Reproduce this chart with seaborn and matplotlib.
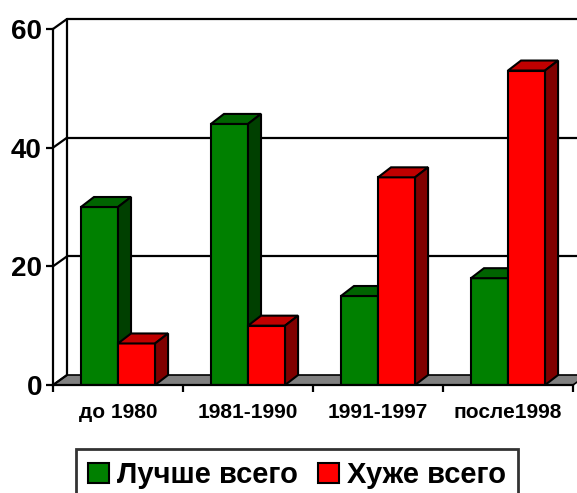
import numpy as np
import pandas as pd
import seaborn as sns
import matplotlib.pyplot as plt
from matplotlib.patches import Polygon, Patch

# chart data
periods = ["до 1980", "1981-1990", "1991-1997", "после1998"]
series = ["Лучше всего", "Хуже всего"]
best = [30, 44, 15, 18]
worst = [7, 10, 35, 53]
y_ticks = [0, 20, 40, 60]

front_colors = ["#008000", "#ff0000"]
top_colors = ["#006400", "#c00000"]
side_colors = ["#004000", "#800000"]

sns.set_style("white")
plt.rcParams['font.family'] = ['Liberation Sans', 'DejaVu Sans']
plt.rcParams['font.weight'] = 'bold'
plt.rcParams['text.color'] = 'black'
plt.rcParams['xtick.color'] = 'black'
plt.rcParams['ytick.color'] = 'black'
plt.rcParams['axes.edgecolor'] = 'black'

df = pd.DataFrame({
    "period": periods * 2,
    "series": [series[0]] * 4 + [series[1]] * 4,
    "value": best + worst,
})

W, H = 577, 493
fig = plt.figure(figsize=(W / 100, H / 100), dpi=100)
px_unit = 356 / 60.0      # pixels per value unit
cat_px = 130.0            # pixels per category
y_top = 62.2
ax = fig.add_axes([53 / W, (H - 385) / H, (W - 53) / W, y_top * px_unit / H])

sns.barplot(data=df, x="period", y="value", hue="series", order=periods,
            hue_order=series, palette=front_colors, width=0.57,
            edgecolor="black", linewidth=1.5, saturation=1, legend=False,
            ax=ax, zorder=3)

ax.set_xlim(-0.5, (W - 53) / cat_px - 0.5)
ax.set_ylim(0, y_top)

# depth of the fake 3d box
dx = 14 / cat_px
dy = 10 / px_unit

# floor
floor = Polygon([(-0.5, 0), (3.5, 0), (3.5 + dx, dy), (-0.5 + dx, dy)],
                closed=True, facecolor="#808080", edgecolor="black", lw=1.2,
                zorder=1, clip_on=False)
ax.add_patch(floor)

# back wall grid and left wall
x_right = ax.get_xlim()[1] + 0.1
for v in y_ticks:
    ax.plot([-0.5, -0.5 + dx], [v, v + dy], color="black", lw=1.6,
            zorder=1.5, clip_on=False, solid_capstyle="butt")
    if v > 0:
        ax.plot([-0.5 + dx, x_right], [v + dy, v + dy], color="black", lw=1.6,
                zorder=1.5, clip_on=False)
ax.plot([-0.5 + dx, -0.5 + dx], [dy, 60 + dy], color="black", lw=1.6,
        zorder=1.5, clip_on=False)

# top and side faces of the bars
bars = [p for p in ax.patches if p is not floor]
bars = sorted(bars, key=lambda p: p.get_x())
for p in bars:
    x0 = p.get_x()
    x1 = x0 + p.get_width()
    h = p.get_height()
    k = 0 if np.isclose(p.get_facecolor()[1], 128 / 255, atol=0.05) else 1
    z = p.get_zorder() + 0.01 * x0
    p.set_zorder(z)
    top = Polygon([(x0, h), (x1, h), (x1 + dx * 0.93, h + dy), (x0 + dx * 0.93, h + dy)],
                  closed=True, facecolor=top_colors[k], edgecolor="black",
                  lw=1.5, zorder=z, clip_on=False)
    side = Polygon([(x1, 0), (x1, h), (x1 + dx * 0.93, h + dy), (x1 + dx * 0.93, dy)],
                   closed=True, facecolor=side_colors[k], edgecolor="black",
                   lw=1.5, zorder=z, clip_on=False)
    ax.add_patch(top)
    ax.add_patch(side)

# axes styling
for s in ["top", "right"]:
    ax.spines[s].set_visible(False)
ax.spines["left"].set_bounds(0, 60)
ax.spines["bottom"].set_bounds(-0.5, 3.5)
ax.spines["left"].set_linewidth(1.6)
ax.spines["bottom"].set_linewidth(1.6)
ax.spines["left"].set_zorder(6)
ax.spines["bottom"].set_zorder(6)

ax.set_yticks(y_ticks)
ax.set_yticklabels([str(v) for v in y_ticks], fontsize=20, fontweight="bold")
ax.tick_params(axis="y", length=5, width=1.6, pad=3, left=True)
ax.set_xticks(np.arange(len(periods)))
ax.set_xticklabels(periods, fontsize=15, fontweight="bold")
ax.set_xticks(np.arange(len(periods) + 1) - 0.5, minor=True)
ax.tick_params(axis="x", which="major", length=0, pad=13)
ax.tick_params(axis="x", which="minor", length=5, width=1.6, bottom=True)
ax.set_xlabel("")
ax.set_ylabel("")

handles = [Patch(facecolor=c, edgecolor="black", lw=1.5) for c in front_colors]
leg = fig.legend(handles, series, loc="upper left",
                 bbox_to_anchor=(76 / W, (H - 449) / H), ncol=2,
                 prop={"family": "Liberation Sans", "weight": "bold", "size": 21},
                 frameon=True, fancybox=False, edgecolor="black",
                 handlelength=0.7, handleheight=0.7, handletextpad=0.28,
                 columnspacing=0.7, borderpad=0.42, borderaxespad=0)
leg.get_frame().set_linewidth(2)

fig.savefig("out.png", dpi=100)
